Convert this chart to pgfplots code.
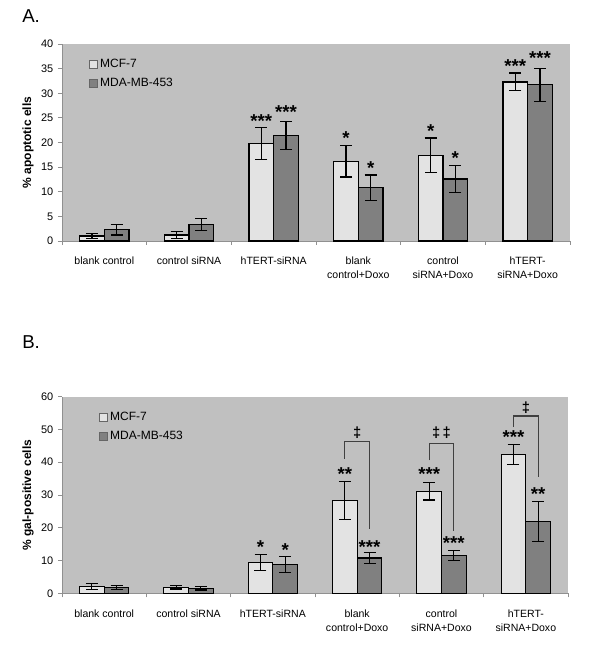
\documentclass[border=0pt]{standalone}
\usepackage{pgfplots}
\pgfplotsset{compat=1.18}
\usepackage{pgfplotstable}
\usepackage{fontspec}
\setmainfont{Liberation Sans}
\definecolor{bggray}{HTML}{C0C0C0}
\definecolor{lightbar}{HTML}{E3E3E3}
\definecolor{darkbar}{HTML}{808080}
\definecolor{axgray}{HTML}{909090}

\pgfplotstableread{
x mcf mcfe mda mdae
1 1.0 0.5 2.3 1.1
2 1.2 0.75 3.4 1.2
3 19.8 3.2 21.4 2.8
4 16.2 3.2 10.8 2.6
5 17.4 3.5 12.6 2.8
6 32.3 1.8 31.7 3.4
}\dataA
\pgfplotstableread{
x mcf mcfe mda mdae
1 2.1 1.0 1.8 0.6
2 1.9 0.6 1.5 0.5
3 9.4 2.5 8.8 2.4
4 28.4 5.8 10.8 1.6
5 31.1 2.6 11.5 1.5
6 42.4 3.0 22.0 6.1
}\dataB

\pgfplotsset{
  panel/.style={
    scale only axis,
    anchor=south west,
    clip=false,
    ybar=0pt,
    bar width=18.5pt,
    xmin=0.5, xmax=6.5, ymin=0,
    axis background/.style={fill=bggray},
    axis x line*=bottom, axis y line*=left,
    axis line style={axgray, line width=0.6pt},
    tick align=outside,
    xtick={1,...,6},
    minor xtick={0.5,1.5,...,6.5},
    major x tick style={draw=none},
    minor x tick style={axgray, line width=0.6pt},
    minor tick length=3pt,
    major y tick style={axgray, line width=0.6pt},
    major tick length=3pt,
    xticklabels={blank control, control siRNA, hTERT-siRNA, {blank\\control+Doxo}, {control\\siRNA+Doxo}, {hTERT-\\siRNA+Doxo}},
    xticklabel style={align=center, font=\fontsize{7.9}{10.5}\selectfont, yshift=-5.5pt},
    yticklabel style={font=\fontsize{8.2}{9.6}\selectfont},
    /pgf/number format/assume math mode=true,
    every axis y label/.style={at={(axis description cs:0,0.5)}, xshift=-25.5pt, rotate=90, anchor=center, font=\fontsize{9}{10}\selectfont\bfseries},
    legend style={draw=none, fill=none, anchor=north west, font=\fontsize{9}{10}\selectfont, row sep=2.5pt, inner sep=1pt},
    legend cell align=left,
    legend image code/.code={\draw[##1,draw=gray!80!black,line width=0.4pt] (0pt,-3pt) rectangle (6pt,3pt);},
    error bars/y dir=both, error bars/y explicit,
    error bars/error bar style={line width=0.9pt, black},
    error bars/error mark options={rotate=90, mark size=4.5pt, line width=0.9pt, black},
  },
}
\tikzset{
  starlbl/.style={anchor=base, inner sep=0pt, font=\fontsize{14}{14}\selectfont\bfseries},
  daglbl/.style={anchor=center, inner sep=0pt, font=\fontsize{11}{11}\selectfont\bfseries},
  brk/.style={black!75, line width=0.8pt},
}

\begin{document}
\begin{tikzpicture}
\path[use as bounding box] (0,0) rectangle (450pt,484.5pt);
\node[anchor=base west, inner sep=0pt, font=\fontsize{14}{14}\selectfont] at (16.5pt,467.25pt) {A.};
\node[anchor=base west, inner sep=0pt, font=\fontsize{14}{14}\selectfont] at (16.5pt,222.75pt) {B.};

\begin{axis}[panel, at={(46.5pt,303.75pt)}, width=381pt, height=147.75pt,
  ymax=40, ytick={0,5,...,40}, ylabel={\% apoptotic ells},
  legend style={at={(axis description cs:0.05,0.945)}}]
\addplot[draw=black, line width=0.9pt, fill=lightbar] table[x=x, y=mcf, y error=mcfe] {\dataA};
\addplot[draw=black, line width=0.9pt, fill=darkbar] table[x=x, y=mda, y error=mdae] {\dataA};
\legend{MCF-7, MDA-MB-453}
\node[starlbl] at ([xshift=-9.25pt]axis cs:3,23.1) {***};
\node[starlbl] at ([xshift=9.25pt]axis cs:3,24.9) {***};
\node[starlbl] at ([xshift=-9.25pt]axis cs:4,19.6) {*};
\node[starlbl] at ([xshift=9.25pt]axis cs:4,13.6) {*};
\node[starlbl] at ([xshift=-9.25pt]axis cs:5,21.1) {*};
\node[starlbl] at ([xshift=9.25pt]axis cs:5,15.6) {*};
\node[starlbl] at ([xshift=-9.25pt]axis cs:6,34.3) {***};
\node[starlbl] at ([xshift=9.25pt]axis cs:6,35.8) {***};
\end{axis}

\begin{axis}[panel, at={(46.5pt,39.5pt)}, width=379.5pt, height=147.5pt,
  ymax=60, ytick={0,10,...,60}, ylabel={\% gal-positive cells},
  legend style={at={(axis description cs:0.07,0.945)}}]
\addplot[draw=black, line width=0.9pt, fill=lightbar] table[x=x, y=mcf, y error=mcfe] {\dataB};
\addplot[draw=black, line width=0.9pt, fill=darkbar] table[x=x, y=mda, y error=mdae] {\dataB};
\legend{MCF-7, MDA-MB-453}
\node[starlbl] at ([xshift=-9.25pt]axis cs:3,12.1) {*};
\node[starlbl] at ([xshift=9.25pt]axis cs:3,11.2) {*};
\node[starlbl] at ([xshift=-9.25pt]axis cs:4,34.5) {**};
\node[starlbl] at ([xshift=9.25pt]axis cs:4,12.3) {***};
\node[starlbl] at ([xshift=-9.25pt]axis cs:5,34.3) {***};
\node[starlbl] at ([xshift=9.25pt]axis cs:5,13.3) {***};
\node[starlbl] at ([xshift=-9.25pt]axis cs:6,45.6) {***};
\node[starlbl] at ([xshift=9.25pt]axis cs:6,28.4) {**};
\draw[brk] ([xshift=-9.25pt]axis cs:4,41.0) -- ([xshift=-9.25pt]axis cs:4,46.2) -- ([xshift=9.25pt]axis cs:4,46.2) -- ([xshift=9.25pt]axis cs:4,19.5);
\draw[brk] ([xshift=-9.25pt]axis cs:5,40.6) -- ([xshift=-9.25pt]axis cs:5,45.8) -- ([xshift=9.25pt]axis cs:5,45.8) -- ([xshift=9.25pt]axis cs:5,19.0);
\draw[brk] ([xshift=-9.25pt]axis cs:6,50.7) -- ([xshift=-9.25pt]axis cs:6,54.1) -- ([xshift=9.25pt]axis cs:6,54.1) -- ([xshift=9.25pt]axis cs:6,35.4);
\node[daglbl] at (axis cs:4,49.1) {‡};
\node[daglbl] at (axis cs:5,49.0) {‡\,‡};
\node[daglbl] at (axis cs:6,56.5) {‡};
\end{axis}
\end{tikzpicture}
\end{document}
